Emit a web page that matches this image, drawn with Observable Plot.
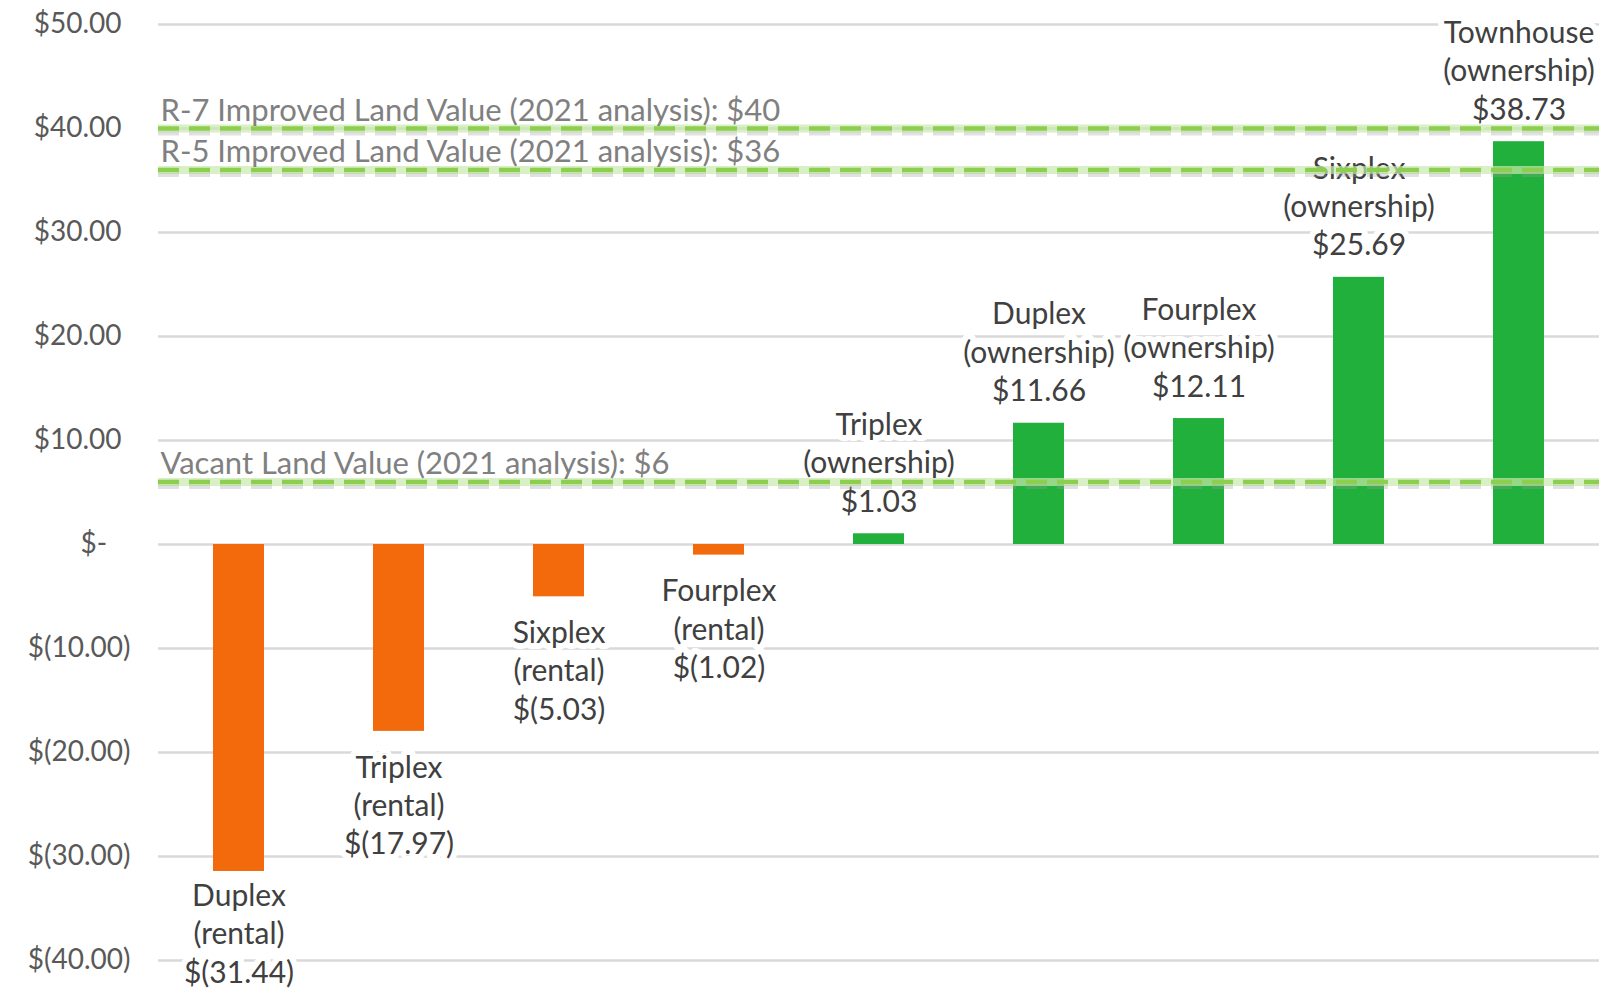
<!DOCTYPE html>
<html><head><meta charset="utf-8">
<script src="https://cdn.jsdelivr.net/npm/d3@7"></script>
<script src="https://cdn.jsdelivr.net/npm/@observablehq/plot@0.6"></script>
<style>
html,body{margin:0;padding:0;background:#fff;}
#chart{width:1602px;height:990px;overflow:hidden;}
</style></head><body><div id="chart"></div>
<script>
// ---- data ----
const categories = ["Duplex","Triplex","Sixplex","Fourplex","Triplex","Duplex","Fourplex","Sixplex","Townhouse"];
const tenures = ["rental","rental","rental","rental","ownership","ownership","ownership","ownership","ownership"];
const values = [-31.44,-17.97,-5.03,-1.02,1.03,11.66,12.11,25.69,38.73];
const yTicks = [50,40,30,20,10,0,-10,-20,-30,-40];
const refLabels = [
  "R-7 Improved Land Value (2021 analysis): $40",
  "R-5 Improved Land Value (2021 analysis): $36",
  "Vacant Land Value (2021 analysis): $6"
];
const refValues = [40,36,6];

// ---- build ----
const data = categories.map((c,i)=>({key:c+" ("+tenures[i]+")", name:c, tenure:tenures[i], value:values[i]}));
const num = d3.format(",.2f");
const fmt = v => v === 0 ? "$-" : v < 0 ? "$(" + num(-v) + ")" : "$" + num(v);
// accounting-style padding so numbers line up with the parenthesised negatives
const tickFmt = v => v === 0 ? "$-\u00A0\u00A0\u00A0\u200A" : v < 0 ? fmt(v) : fmt(v) + "\u00A0\u200A";
const yDomain = [-40,50];
const labelText = d => `${d.name}\n(${d.tenure})\n${fmt(d.value)}`;
const pos = data.filter(d=>d.value>0), neg = data.filter(d=>d.value<0);

const plot = Plot.plot({
  width:1602, height:990,
  marginTop:24, marginBottom:30, marginLeft:158, marginRight:3,
  style:{fontFamily:"Lato, 'Open Sans', sans-serif", fontSize:"28px", background:"white", overflow:"visible"},
  x:{domain:data.map(d=>d.key), paddingInner:0.68, paddingOuter:0.34, axis:null},
  y:{domain:yDomain, axis:null},
  marks:[
    Plot.ruleY(yTicks,{stroke:"#d9d9d9", strokeWidth:2.5}),
    Plot.axisY({ticks:yTicks, tickSize:0, tickPadding:28, tickFormat:tickFmt, color:"#595959", fontSize:28, label:null}),
    Plot.barY(neg,{x:"key", y:"value", fill:"#F26A0C"}),
    Plot.barY(pos,{x:"key", y:"value", fill:"#21B03B"}),
    Plot.text(pos,{x:"key", y:"value", text:labelText, lineAnchor:"bottom", dy:-22, lineHeight:1.28, fontSize:30,
      fill:"#404040", stroke:"white", strokeWidth:12}),
    // labels below negative bars; nudged up (like the spreadsheet) to stay inside the chart
    Plot.text(neg,{x:"key", y:d=>Math.max(d.value, yDomain[0]+9.7), text:labelText, lineAnchor:"top", dy:19, lineHeight:1.28, fontSize:30,
      fill:"#404040", stroke:"white", strokeWidth:12}),
    Plot.ruleY(refValues,{stroke:"#c9e8ad", strokeOpacity:0.7, strokeWidth:8}),
    Plot.ruleY(refValues,{stroke:"#9a9a9a", strokeOpacity:0.3, strokeWidth:4, dy:5, strokeDasharray:"21,10"}),
    Plot.ruleY(refValues,{stroke:"#8ccf4e", strokeWidth:4.5, strokeDasharray:"21,10"}),
    Plot.text(refValues,{y:d=>d, text:(d,i)=>refLabels[i], frameAnchor:"left", textAnchor:"start", lineAnchor:"bottom",
      dx:2, dy:-8, fontSize:31, fill:"#808080"})
  ]
});
document.getElementById("chart").appendChild(plot);
</script></body></html>
